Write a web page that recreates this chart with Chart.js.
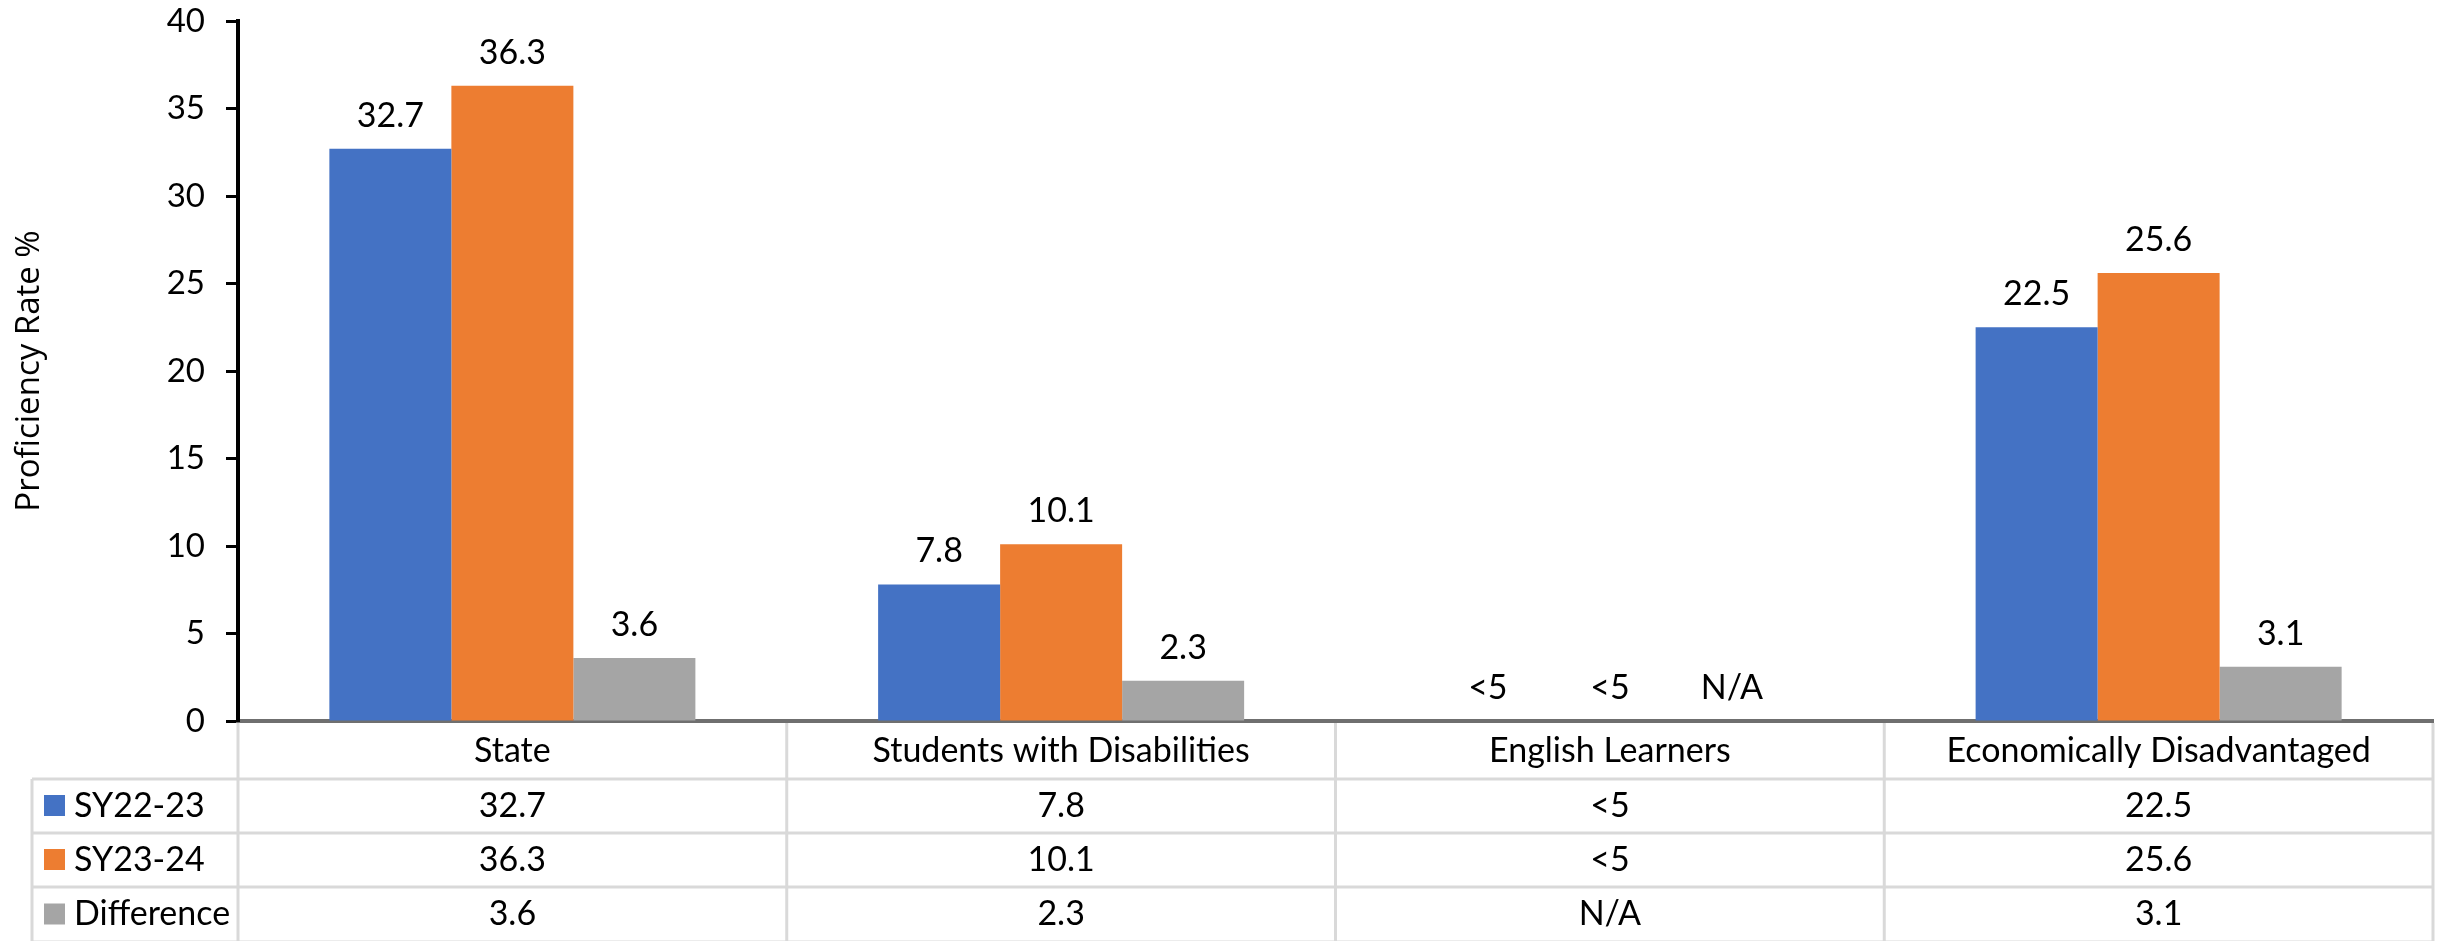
<!DOCTYPE html>
<html>
<head>
<meta charset="utf-8">
<script src="https://cdn.jsdelivr.net/npm/chart.js@4.4.1/dist/chart.umd.min.js"></script>
<style>
  html, body { margin: 0; padding: 0; background: #ffffff; }
  #wrap { width: 2440px; height: 941px; }
</style>
</head>
<body>
<div id="wrap"><canvas id="myChart" width="2440" height="941"></canvas></div>
<script>
// Categorie e serie
const categories = ['State', 'Students with Disabilities', 'English Learners', 'Economically Disadvantaged'];
const seriesNames = ['SY22-23', 'SY23-24', 'Difference'];
const seriesColors = ['#4472C4', '#ED7D31', '#A5A5A5'];

// Valori delle barre (English Learners soppresso: altezza zero)
const sy2223 = [32.7, 7.8, 0, 22.5];
const sy2324 = [36.3, 10.1, 0, 25.6];
const difference = [3.6, 2.3, 0, 3.1];

// Testi mostrati sopra le barre e nella tabella
const sy2223Text = ['32.7', '7.8', '<5', '22.5'];
const sy2324Text = ['36.3', '10.1', '<5', '25.6'];
const differenceText = ['3.6', '2.3', 'N/A', '3.1'];

// Tick dell'asse Y
const yTicks = [0, 5, 10, 15, 20, 25, 30, 35, 40];

const FONT = 'Lato, "Open Sans", sans-serif';
const TEXT_SIZE = 34;
const seriesText = [sy2223Text, sy2324Text, differenceText];

// Etichette sopra le barre
const barLabels = {
    id: 'barLabels',
    afterDatasetsDraw(chart) {
        const ctx = chart.ctx;
        ctx.save();
        ctx.font = `${TEXT_SIZE}px ${FONT}`;
        ctx.fillStyle = '#000000';
        ctx.textAlign = 'center';
        ctx.textBaseline = 'middle';
        chart.data.datasets.forEach((ds, i) => {
            const meta = chart.getDatasetMeta(i);
            meta.data.forEach((bar, j) => {
                ctx.fillText(seriesText[i][j], bar.x, bar.y - 33);
            });
        });
        ctx.restore();
    }
};

// Tabella dei dati sotto il grafico
const dataTable = {
    id: 'dataTable',
    afterDraw(chart) {
        const ctx = chart.ctx;
        const xScale = chart.scales.x;
        const area = chart.chartArea;
        const colW = (area.right - area.left) / categories.length;
        const rows = [area.bottom, area.bottom + 58, area.bottom + 112, area.bottom + 166, area.bottom + 221];
        const legendLeft = 32;

        ctx.save();
        ctx.strokeStyle = '#d9d9d9';
        ctx.lineWidth = 3;
        ctx.beginPath();
        // righe orizzontali
        for (let r = 1; r < rows.length; r++) {
            ctx.moveTo(legendLeft, rows[r]);
            ctx.lineTo(area.right, rows[r]);
        }
        // colonne
        ctx.moveTo(legendLeft, rows[1]);
        ctx.lineTo(legendLeft, rows[4]);
        for (let c = 0; c <= categories.length; c++) {
            const x = area.left + c * colW;
            ctx.moveTo(x, rows[0] + 2);
            ctx.lineTo(x, rows[4]);
        }
        ctx.stroke();

        ctx.font = `${TEXT_SIZE}px ${FONT}`;
        ctx.fillStyle = '#000000';
        ctx.textBaseline = 'middle';
        ctx.textAlign = 'center';
        categories.forEach((cat, j) => {
            const x = xScale.getPixelForValue(j);
            ctx.fillText(cat, x, (rows[0] + rows[1]) / 2 + 1);
        });

        seriesNames.forEach((name, i) => {
            const yMid = (rows[i + 1] + rows[i + 2]) / 2;
            ctx.fillStyle = seriesColors[i];
            ctx.fillRect(44, yMid - 11, 21, 21);
            ctx.fillStyle = '#000000';
            ctx.textAlign = 'left';
            ctx.fillText(name, 74, yMid);
            ctx.textAlign = 'center';
            seriesText[i].forEach((txt, j) => {
                ctx.fillText(txt, xScale.getPixelForValue(j), yMid);
            });
        });
        ctx.restore();
    }
};

const ctx = document.getElementById('myChart').getContext('2d');
new Chart(ctx, {
    type: 'bar',
    data: {
        labels: categories,
        datasets: [
            { label: seriesNames[0], data: sy2223, backgroundColor: seriesColors[0] },
            { label: seriesNames[1], data: sy2324, backgroundColor: seriesColors[1] },
            { label: seriesNames[2], data: difference, backgroundColor: seriesColors[2] }
        ]
    },
    options: {
        responsive: false,
        animation: false,
        layout: { padding: { top: 21, right: 7, left: 0, bottom: 0 } },
        datasets: {
            bar: { categoryPercentage: 0.667, barPercentage: 1.0 }
        },
        scales: {
            x: {
                grid: { display: false, drawTicks: false },
                border: { display: true, color: '#6f6f6f', width: 4 },
                ticks: { display: false },
                afterFit: (scale) => { scale.height = 220; }
            },
            y: {
                min: 0,
                max: 40,
                afterBuildTicks: (scale) => { scale.ticks = yTicks.map(v => ({ value: v })); },
                afterFit: (scale) => {
                    scale.width = 238;
                    scale.paddingTop = 0;
                    scale.paddingBottom = 0;
                },
                grid: { drawOnChartArea: false, drawTicks: true, tickLength: 12, tickWidth: 3, color: '#000000' },
                border: { display: true, color: '#000000', width: 4 },
                ticks: {
                    padding: 21,
                    color: '#000000',
                    font: { family: FONT, size: 33 }
                },
                title: {
                    display: true,
                    text: 'Proficiency Rate %',
                    color: '#000000',
                    font: { family: '"Open Sans", sans-serif', size: 33 },
                    padding: { top: 10, bottom: 0 }
                }
            }
        },
        plugins: {
            legend: { display: false },
            tooltip: { enabled: false }
        }
    },
    plugins: [barLabels, dataTable]
});
</script>
</body>
</html>
